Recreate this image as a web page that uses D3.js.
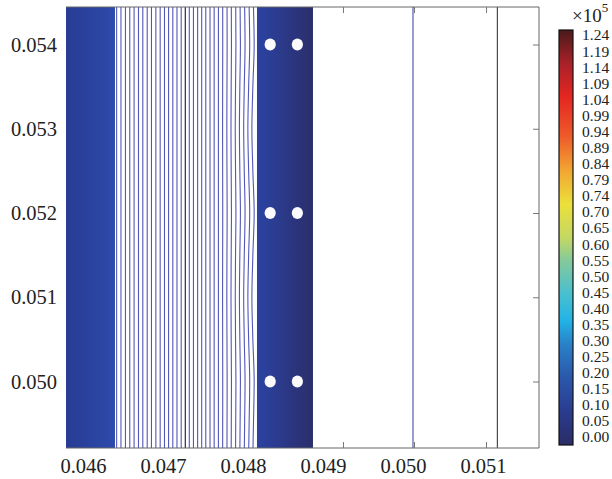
<!DOCTYPE html>
<html lang="en">
<head>
<meta charset="UTF-8">
<script src="https://d3js.org/d3.v7.min.js"></script>
<title>Contour plot</title>
<style>
  body { margin: 0; background: #fff; }
  text { font-family: "Liberation Serif", "Times New Roman", serif; fill: #222; }
</style>
</head>
<body>
<svg id="plot"></svg>
<script>
const width = 612, height = 479;
const margin = {top: 7, right: 73, bottom: 31, left: 66};

// axis domains and tick labels
const xDomain = [0.045788, 0.0517];
const yDomain = [0.049211, 0.054445];
const xTicks = [0.046, 0.047, 0.048, 0.049, 0.050, 0.051];
const yTicks = [0.050, 0.051, 0.052, 0.053, 0.054];
const xTickMarks = [0.04925, 0.050138, 0.051038];

// filled regions (x extents in data units) and their edge colours
const leftBand = [0.045788, 0.0464];
const leftBandColors = ["#273c94", "#2d4aab"];
const rightBand = [0.048175, 0.048875];
const rightBandColors = ["#2b43a2", "#2b2e6b"];

// holes in the right band
const holeX = [0.04834, 0.04868];
const holeY = [0.050, 0.052, 0.054];

// contour lines: x position of each line, and how far it bows out at the hole rows
const contourX = [0.046421, 0.046475, 0.046531, 0.046585, 0.046639, 0.046694, 0.046748, 0.046803,
  0.046856, 0.046911, 0.046965, 0.047019, 0.047070, 0.047123, 0.047175, 0.047228,
  0.047329, 0.047381, 0.047433, 0.047484, 0.047535, 0.047588, 0.047640, 0.047693,
  0.047745, 0.047798, 0.047850, 0.047903, 0.047955, 0.048008, 0.048060, 0.048110];
const contourBulge = [0, 0, 0, 0, 0, 0, 0, 0, 0, 0, 0, 0, 0, 0, 0, 0,
  0, 0, 0, 0, 0, 0, 0, 0, 0.000002, 0.000004, 0.000006, 0.000009, 0.000013, 0.000018, 0.000024, 0.00003];
const profileY = [0.049211, 0.0495, 0.0500, 0.0505, 0.0510, 0.0515, 0.0520, 0.0525, 0.0530, 0.0535, 0.0540, 0.054445];
const profileW = [0.5, 0.7, 1, 0.45, 0.05, 0.45, 1, 0.45, 0.05, 0.45, 1, 0.7];
const darkLineX = 0.047279;

// straight lines in the right part
const purpleLineX = 0.050125;
const grayLineX = 0.05118;

// colour bar
const cbLabels = ["0.00", "0.05", "0.10", "0.15", "0.20", "0.25", "0.30", "0.35", "0.40", "0.45",
  "0.50", "0.55", "0.60", "0.65", "0.70", "0.74", "0.79", "0.84", "0.89", "0.94",
  "0.99", "1.04", "1.09", "1.14", "1.19", "1.24"];
const cbValues = [0, 0.10, 0.20, 0.30, 0.37, 0.45, 0.55, 0.62, 0.72, 0.82, 0.92, 1.04, 1.14, 1.24];
const cbColors = ["#2b2c66", "#2a3c8f", "#2b57ab", "#2a80c8", "#22b2e6", "#48bfd0", "#84c99c",
  "#c4d862", "#ebe03c", "#f2a632", "#ee5c2a", "#e52621", "#a82229", "#4a1a1a"];

const svg = d3.select("#plot").attr("width", width).attr("height", height);

const x = d3.scaleLinear().domain(xDomain).range([margin.left, width - margin.right]);
const y = d3.scaleLinear().domain(yDomain).range([height - margin.bottom, margin.top]);
const color = d3.scaleLinear().domain(cbValues).range(cbColors);

const defs = svg.append("defs");
function hGradient(id, colors) {
  const g = defs.append("linearGradient").attr("id", id)
    .attr("x1", "0%").attr("x2", "100%").attr("y1", "0%").attr("y2", "0%");
  g.append("stop").attr("offset", "0%").attr("stop-color", colors[0]);
  g.append("stop").attr("offset", "100%").attr("stop-color", colors[1]);
}
hGradient("leftBand", leftBandColors);
hGradient("rightBand", rightBandColors);

// bands
svg.append("rect")
  .attr("x", x(leftBand[0])).attr("width", x(leftBand[1]) - x(leftBand[0]))
  .attr("y", y(yDomain[1])).attr("height", y(yDomain[0]) - y(yDomain[1]))
  .attr("fill", "url(#leftBand)");
svg.append("rect")
  .attr("x", x(rightBand[0])).attr("width", x(rightBand[1]) - x(rightBand[0]))
  .attr("y", y(yDomain[1])).attr("height", y(yDomain[0]) - y(yDomain[1]))
  .attr("fill", "url(#rightBand)");

// contour lines
const contourLine = d3.line()
  .x(d => x(d[0]))
  .y(d => y(d[1]))
  .curve(d3.curveMonotoneY);
svg.append("g").selectAll("path")
  .data(contourX)
  .join("path")
  .attr("d", (cx, i) => contourLine(profileY.map((py, j) => [cx + contourBulge[i] * profileW[j], py])))
  .attr("fill", "none")
  .attr("stroke", "#5357b8")
  .attr("stroke-width", 1.1);

function vline(xv, stroke, w) {
  svg.append("line")
    .attr("x1", x(xv)).attr("x2", x(xv))
    .attr("y1", y(yDomain[0])).attr("y2", y(yDomain[1]))
    .attr("stroke", stroke).attr("stroke-width", w);
}
vline(darkLineX, "#15153a", 1.1);
vline(purpleLineX, "#8282c2", 1.6);
vline(grayLineX, "#4a4a55", 1.2);

// holes
svg.append("g").selectAll("ellipse")
  .data(holeY.flatMap(hy => holeX.map(hx => [hx, hy])))
  .join("ellipse")
  .attr("cx", d => x(d[0])).attr("cy", d => y(d[1]))
  .attr("rx", 5.6).attr("ry", 6)
  .attr("fill", "#fbfbfd");

// frame
const frame = svg.append("g").attr("stroke", "#666").attr("stroke-width", 1).attr("fill", "none");
frame.append("path").attr("d",
  `M${x(xDomain[0])},${y(yDomain[1])}H${x(xDomain[1])}V${y(yDomain[0])}H${x(xDomain[0])}`);

// inward tick marks
svg.append("g").attr("transform", `translate(0,${y(yDomain[0])})`)
  .call(d3.axisTop(x).tickValues(xTickMarks).tickSize(6).tickFormat(""))
  .call(g => g.select(".domain").remove())
  .call(g => g.selectAll("line").attr("stroke", "#777"));
svg.append("g").attr("transform", `translate(0,${y(yDomain[1])})`)
  .call(d3.axisBottom(x).tickValues(xTickMarks).tickSize(6).tickFormat(""))
  .call(g => g.select(".domain").remove())
  .call(g => g.selectAll("line").attr("stroke", "#777"));
svg.append("g").attr("transform", `translate(${x(xDomain[1])},0)`)
  .call(d3.axisLeft(y).tickValues(yTicks).tickSize(6).tickFormat(""))
  .call(g => g.select(".domain").remove())
  .call(g => g.selectAll("line").attr("stroke", "#777"));

// tick labels
svg.append("g").attr("transform", `translate(0,${y(yDomain[0])})`)
  .call(d3.axisBottom(x).tickValues(xTicks).tickSize(0).tickPadding(10).tickFormat(d3.format(".3f")))
  .call(g => g.select(".domain").remove())
  .call(g => g.selectAll("text").style("font-size", "20.5px").attr("fill", "#222")
    .style("font-family", '"Liberation Serif", serif'));
svg.append("g").attr("transform", `translate(${x(xDomain[0])},0)`)
  .call(d3.axisLeft(y).tickValues(yTicks).tickSize(0).tickPadding(9).tickFormat(d3.format(".3f")))
  .call(g => g.select(".domain").remove())
  .call(g => g.selectAll("text").style("font-size", "20.5px").attr("fill", "#222")
    .style("font-family", '"Liberation Serif", serif'));

// colour bar
const cbX = 559, cbW = 14, cbTop = 30, cbBottom = 445;
const cb = d3.scalePoint().domain(cbLabels).range([437, 35]);
const cbGrad = defs.append("linearGradient").attr("id", "cbGrad")
  .attr("x1", "0%").attr("x2", "0%").attr("y1", "100%").attr("y2", "0%");
cbGrad.selectAll("stop")
  .data(cbValues)
  .join("stop")
  .attr("offset", d => (d / cbValues[cbValues.length - 1] * 100) + "%")
  .attr("stop-color", d => color(d));
svg.append("rect")
  .attr("x", cbX).attr("y", cbTop).attr("width", cbW).attr("height", cbBottom - cbTop)
  .attr("fill", "url(#cbGrad)").attr("stroke", "#111").attr("stroke-width", 1.2);
svg.append("g").attr("transform", `translate(${cbX + cbW},0)`)
  .call(d3.axisRight(cb).tickSize(0).tickPadding(9))
  .call(g => g.select(".domain").remove())
  .call(g => g.selectAll("text").style("font-size", "15.5px").attr("fill", "#222")
    .style("font-family", '"Liberation Serif", serif'));

const exp = svg.append("text").attr("x", 572).attr("y", 22).style("font-size", "19px");
exp.append("tspan").text("×10");
exp.append("tspan").attr("dy", -10).style("font-size", "13px").text("5");
</script>
</body>
</html>
